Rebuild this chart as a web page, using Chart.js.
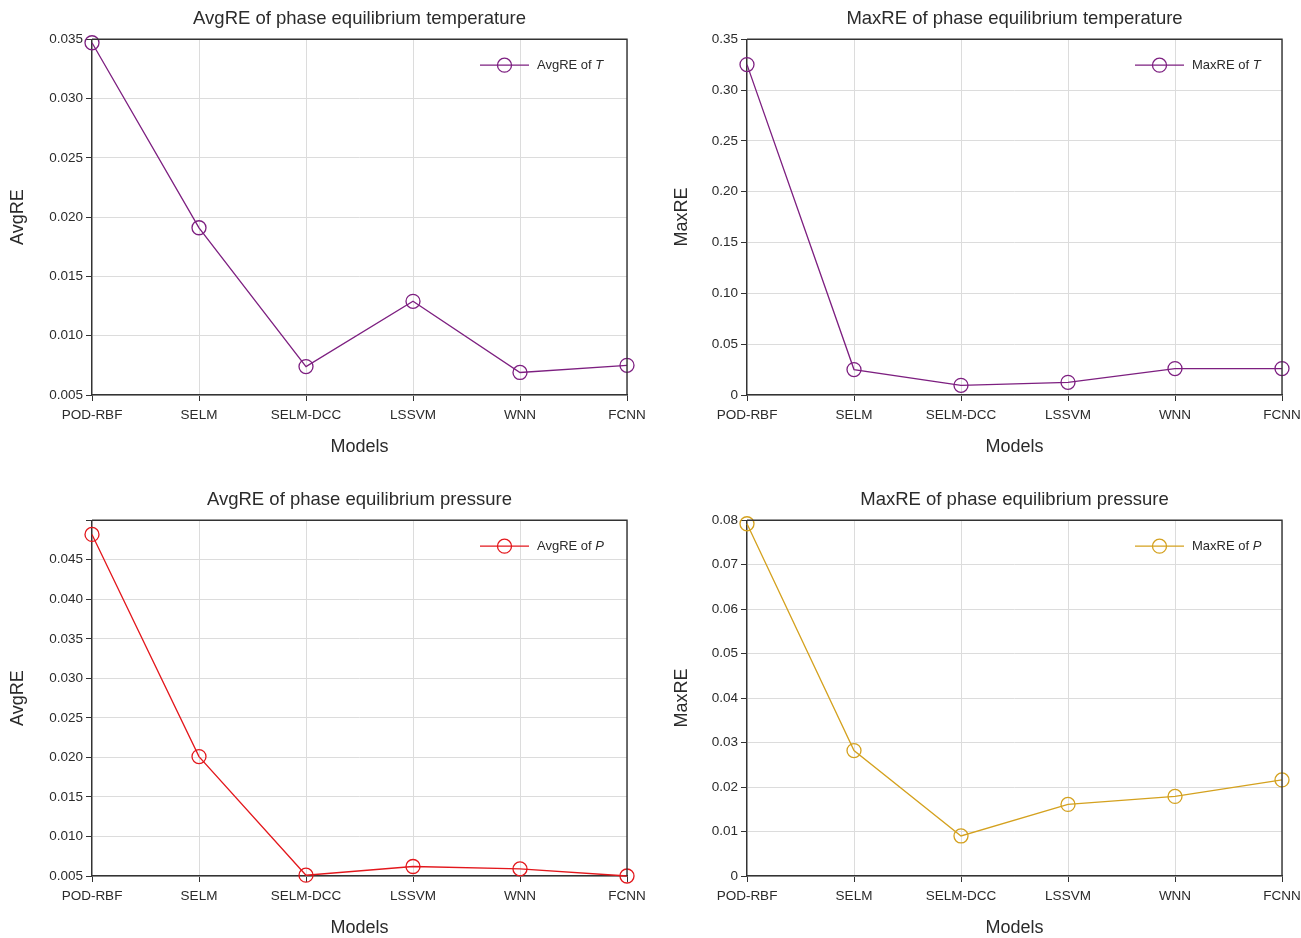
<!DOCTYPE html>
<html>
<head>
<meta charset="utf-8">
<script src="https://cdn.jsdelivr.net/npm/chart.js@4"></script>
<style>
  html, body { margin: 0; padding: 0; background: #fff; overflow: hidden; }
  body { width: 1301px; height: 938px; position: relative; }
  .box { position: absolute; }
</style>
</head>
<body>
<div class="box" style="left:0;top:0;width:650px;height:458px"><canvas id="c1"></canvas></div>
<div class="box" style="left:655px;top:0;width:650px;height:458px"><canvas id="c2"></canvas></div>
<div class="box" style="left:0;top:481px;width:650px;height:458px"><canvas id="c3"></canvas></div>
<div class="box" style="left:655px;top:481px;width:650px;height:458px"><canvas id="c4"></canvas></div>
<script>
const models = ['POD-RBF', 'SELM', 'SELM-DCC', 'LSSVM', 'WNN', 'FCNN'];

const avgReT = [0.0347, 0.0191, 0.0074, 0.0129, 0.0069, 0.0075];
const maxReT = [0.325, 0.025, 0.0095, 0.0125, 0.026, 0.026];
const avgReP = [0.0482, 0.0201, 0.0051, 0.0062, 0.0059, 0.0050];
const maxReP = [0.0792, 0.0282, 0.0090, 0.0161, 0.0179, 0.0216];

const FONT = "'Liberation Sans', Arial, sans-serif";
const TEXT = '#2b2b2b';

// frame on top/right + legend drawn inside the plot area
const framePlugin = {
    id: 'frameLegend',
    afterDraw(chart, args, opts) {
        const { ctx, chartArea: a } = chart;
        ctx.save();
        ctx.strokeStyle = '#333';
        ctx.lineWidth = 1.4;
        ctx.beginPath();
        ctx.moveTo(a.left, a.top);
        ctx.lineTo(a.right, a.top);
        ctx.lineTo(a.right, a.bottom);
        ctx.stroke();

        // legend
        const y = a.top + 26;
        const x0 = a.right - 147;
        ctx.strokeStyle = opts.color;
        ctx.lineWidth = 1.3;
        ctx.beginPath();
        ctx.moveTo(x0, y);
        ctx.lineTo(x0 + 49, y);
        ctx.stroke();
        ctx.beginPath();
        ctx.arc(x0 + 24.5, y, 7, 0, Math.PI * 2);
        ctx.stroke();
        ctx.fillStyle = TEXT;
        ctx.textBaseline = 'middle';
        ctx.font = '13px ' + FONT;
        const tx = x0 + 57;
        ctx.fillText(opts.label, tx, y);
        const w = ctx.measureText(opts.label).width;
        ctx.font = 'italic 13px ' + FONT;
        ctx.fillText(opts.sym, tx + w, y);
        ctx.restore();
    }
};

function makeChart(id, title, yTitle, data, color, legend, yMin, yMax, step, fmt, yTitlePad) {
    const ctx = document.getElementById(id).getContext('2d');
    return new Chart(ctx, {
        type: 'line',
        data: {
            labels: models,
            datasets: [{
                label: legend[0] + legend[1],
                data: data,
                borderColor: color,
                backgroundColor: 'rgba(0,0,0,0)',
                pointBorderColor: color,
                pointBackgroundColor: 'rgba(0,0,0,0)',
                pointRadius: 7,
                pointBorderWidth: 1.3,
                borderWidth: 1.3,
                tension: 0,
                clip: false
            }]
        },
        options: {
            responsive: true,
            maintainAspectRatio: false,
            animation: false,
            layout: { padding: { left: 0, right: 23, top: 0, bottom: 0 } },
            scales: {
                x: {
                    offset: false,
                    grid: { color: '#dcdcdc', lineWidth: 1, tickColor: '#333', tickLength: 6 },
                    border: { color: '#333', width: 1.4 },
                    ticks: { color: TEXT, font: { family: FONT, size: 13.5 }, padding: 6, maxRotation: 0, autoSkip: false },
                    title: { display: true, text: 'Models', color: TEXT, font: { family: FONT, size: 18 }, padding: { top: 0, bottom: 0 } },
                    afterFit(scale) {
                        scale.height = 63;
                        scale.paddingLeft = 0;
                        scale.paddingRight = 0;
                    }
                },
                y: {
                    min: yMin,
                    max: yMax,
                    grid: { color: '#dcdcdc', lineWidth: 1, tickColor: '#333', tickLength: 6 },
                    border: { color: '#333', width: 1.4 },
                    ticks: {
                        stepSize: step,
                        color: TEXT,
                        font: { family: FONT, size: 13.5 },
                        padding: 3,
                        callback: fmt
                    },
                    title: { display: true, text: yTitle, color: TEXT, font: { family: FONT, size: 18 }, padding: { top: yTitlePad, bottom: 0 } },
                    afterFit(scale) { scale.width = 92; }
                }
            },
            plugins: {
                legend: { display: false },
                tooltip: { enabled: false },
                title: {
                    display: true,
                    text: title,
                    fullSize: false,
                    color: TEXT,
                    font: { family: FONT, size: 18.5, weight: 'normal' },
                    padding: { top: 8, bottom: 9 }
                },
                frameLegend: { color: color, label: legend[0], sym: legend[1] }
            }
        },
        plugins: [framePlugin]
    });
}

const fmt3 = v => v.toFixed(3);
const fmt2 = v => (Math.abs(v) < 1e-9 ? '0' : v.toFixed(2));
const fmtP = v => (v > 0.0475 ? '' : v.toFixed(3));

makeChart('c1', 'AvgRE of phase equilibrium temperature', 'AvgRE', avgReT, '#7d1f80',
    ['AvgRE of ', 'T'], 0.005, 0.035, 0.005, fmt3, 7);
makeChart('c2', 'MaxRE of phase equilibrium temperature', 'MaxRE', maxReT, '#7d1f80',
    ['MaxRE of ', 'T'], 0, 0.35, 0.05, fmt2, 16);
makeChart('c3', 'AvgRE of phase equilibrium pressure', 'AvgRE', avgReP, '#e3171c',
    ['AvgRE of ', 'P'], 0.005, 0.05, 0.005, fmtP, 7);
makeChart('c4', 'MaxRE of phase equilibrium pressure', 'MaxRE', maxReP, '#d4a11e',
    ['MaxRE of ', 'P'], 0, 0.08, 0.01, fmt2, 16);
</script>
</body>
</html>
